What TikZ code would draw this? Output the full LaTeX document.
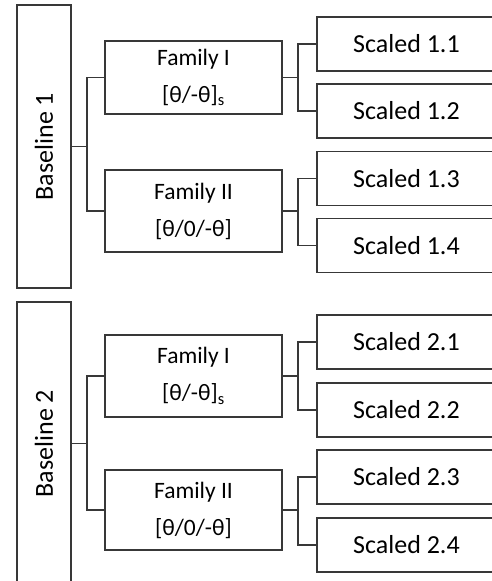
\documentclass[tikz,border=0pt]{standalone}
\usepackage{fontspec}
\setmainfont{Carlito}
\begin{document}
\begin{tikzpicture}[x=1pt,y=-1pt,
  box/.style={draw=black!78, line width=1.6pt, rectangle, inner sep=0pt, text=black},
  basebox/.style={box, minimum width=54pt, minimum height=283pt, font=\fontsize{26}{30}\selectfont},
  fambox/.style={box, minimum width=177pt, align=center, font=\fontsize{23.5}{37}\selectfont},
  scbox/.style={box, minimum width=179pt, minimum height=54pt, font=\fontsize{26}{30}\selectfont},
  conn/.style={draw=black!78, line width=1.6pt}]
\useasboundingbox (0,0) rectangle (492,581);
\clip (0,0) rectangle (492,581);
% Baselines
\node[basebox] (b1) at (44,146.5) {\rotatebox{90}{Baseline 1}};
\node[basebox] (b2) at (44,443.5) {\rotatebox{90}{Baseline 2}};
% Families
\node[fambox, minimum height=73pt] (f11) at (193.5,77.5) {Family I\\{}[θ/-θ]\textsubscript{s}};
\node[fambox, minimum height=82pt] (f12) at (193.5,211) {Family II\\{}[θ/0/-θ]};
\node[fambox, minimum height=82pt] (f21) at (193.5,376) {Family I\\{}[θ/-θ]\textsubscript{s}};
\node[fambox, minimum height=80pt] (f22) at (193.5,510) {Family II\\{}[θ/0/-θ]};
% Scaled
\node[scbox] (s11) at (406.5,44) {Scaled 1.1};
\node[scbox] (s12) at (406.5,111) {Scaled 1.2};
\node[scbox] (s13) at (406.5,178.5) {Scaled 1.3};
\node[scbox] (s14) at (406.5,245.5) {Scaled 1.4};
\node[scbox] (s21) at (406.5,342) {Scaled 2.1};
\node[scbox] (s22) at (406.5,410) {Scaled 2.2};
\node[scbox] (s23) at (406.5,477) {Scaled 2.3};
\node[scbox] (s24) at (406.5,545) {Scaled 2.4};
% Connectors baseline -> families
\draw[conn] (f11.west) -- ++(-17,0) coordinate (k1) |- (f12.west);
\draw[conn] (b1.east) -- (b1.east -| k1);
\draw[conn] (f21.west) -- ++(-17,0) coordinate (k2) |- (f22.west);
\draw[conn] (b2.east) -- (b2.east -| k2);
% Connectors families -> scaled
\draw[conn] (s11.west) -- ++(-18,0) coordinate (m1) |- (s12.west);
\draw[conn] (f11.east) -- (f11.east -| m1);
\draw[conn] (s13.west) -- ++(-18,0) coordinate (m2) |- (s14.west);
\draw[conn] (f12.east) -- (f12.east -| m2);
\draw[conn] (s21.west) -- ++(-18,0) coordinate (m3) |- (s22.west);
\draw[conn] (f21.east) -- (f21.east -| m3);
\draw[conn] (s23.west) -- ++(-18,0) coordinate (m4) |- (s24.west);
\draw[conn] (f22.east) -- (f22.east -| m4);
\end{tikzpicture}
\end{document}
